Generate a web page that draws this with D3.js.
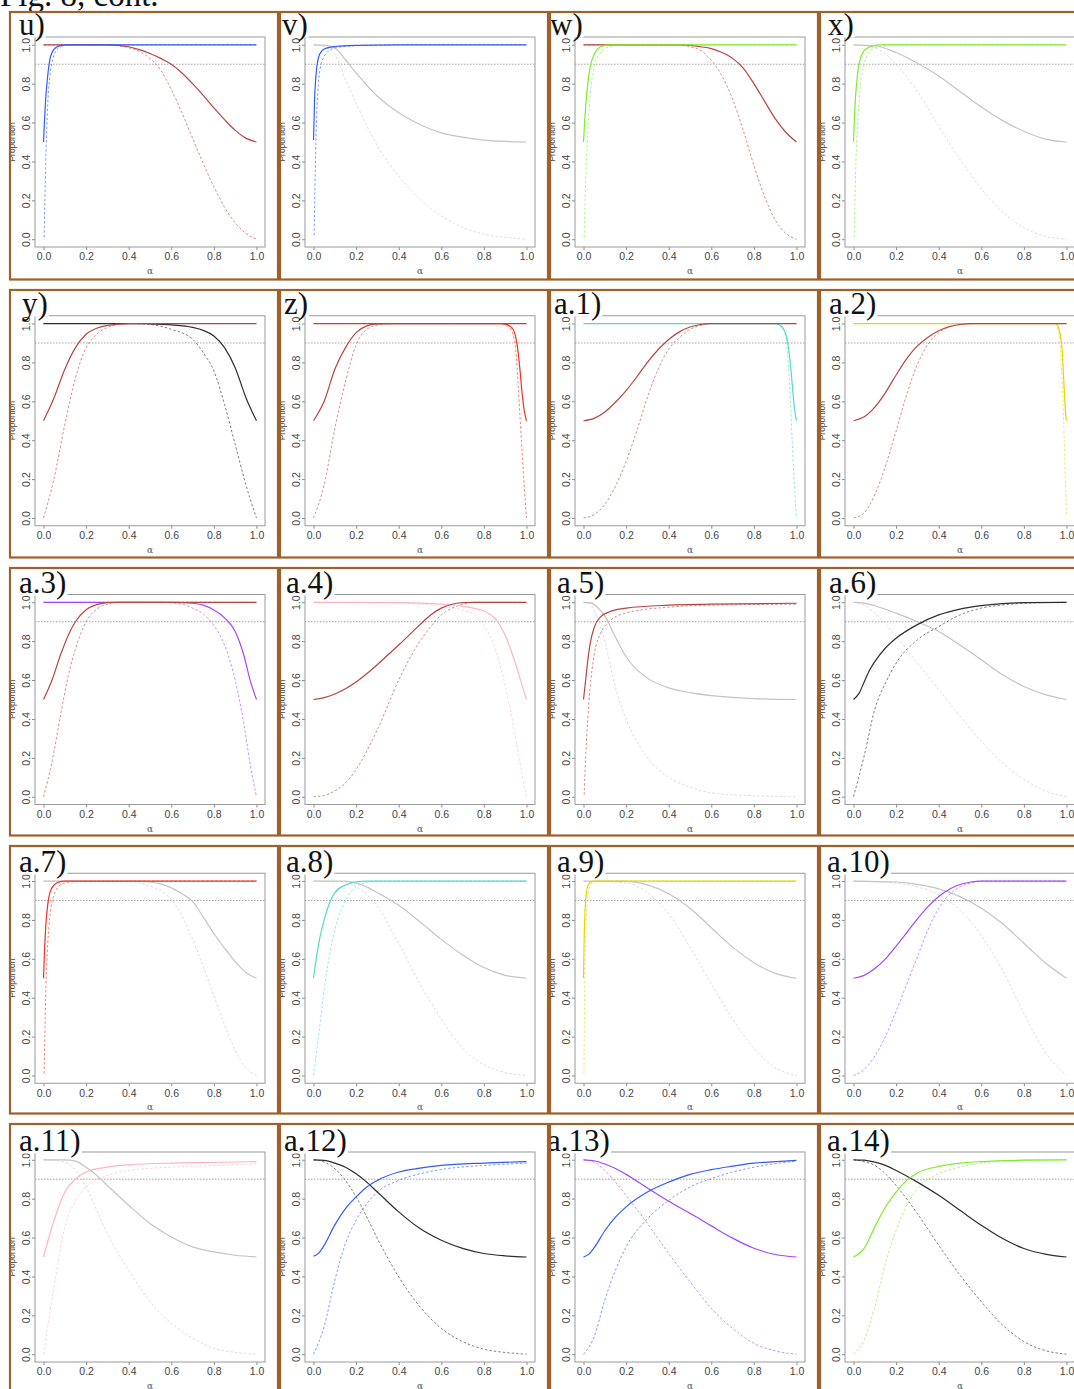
<!DOCTYPE html>
<html>
<head>
<meta charset="utf-8">
<script src="https://cdn.jsdelivr.net/npm/d3@7"></script>
<style>
body { margin: 0; background: #fff; }
</style>
</head>
<body>
<script>
// panel labels and colours (rising group, falling group)
var panelLabels = ["u)", "v)", "w)", "x)", "y)", "z)", "a.1)", "a.2)", "a.3)", "a.4)",
  "a.5)", "a.6)", "a.7)", "a.8)", "a.9)", "a.10)", "a.11)", "a.12)", "a.13)", "a.14)"];
var tickValues = [0, 0.2, 0.4, 0.6, 0.8, 1.0];
var refLevel = 0.9;

var BROWN = "#b8443f", RED = "#f2301f", BLUE = "#3359ff", LIME = "#7ced2a", CYAN = "#55d8ce",
    YELLOW = "#e3d600", PURPLE = "#a347ff", PINK = "#ffb3c2", GRAY = "#c4c4c4", BLACK = "#2e2e2e";
var riseColors = [BLUE, BLUE, LIME, LIME, BROWN, BROWN, BROWN, BROWN, BROWN, BROWN,
  BROWN, BLACK, RED, CYAN, YELLOW, PURPLE, PINK, BLUE, BLUE, LIME];
var fallColors = [BROWN, GRAY, BROWN, GRAY, BLACK, RED, CYAN, YELLOW, PURPLE, PINK,
  GRAY, GRAY, GRAY, GRAY, GRAY, GRAY, GRAY, BLACK, PURPLE, BLACK];

// curves: [alpha, proportion]
var u_riseSolid = [[0,0.5],[0.005,0.62],[0.01,0.72],[0.016,0.8],[0.025,0.89],[0.031,0.93],[0.04,0.96],[0.05,0.978],[0.065,0.99],[0.08,0.996],[0.1,1],[1,1]];
var u_riseDot = [[0.003,0.01],[0.01,0.38],[0.02,0.7],[0.03,0.84],[0.04,0.91],[0.05,0.95],[0.065,0.98],[0.08,0.99],[0.1,0.998],[0.15,1],[1,1]];
var u_fallSolid = [[0,1],[0.3,1],[0.35,0.997],[0.4,0.99],[0.45,0.975],[0.5,0.955],[0.55,0.93],[0.6,0.9],[0.65,0.855],[0.7,0.8],[0.75,0.74],[0.8,0.675],[0.85,0.615],[0.9,0.56],[0.95,0.52],[1,0.5]];
var u_fallDot = [[0,1],[0.3,1],[0.35,0.995],[0.4,0.985],[0.45,0.965],[0.5,0.93],[0.55,0.87],[0.6,0.77],[0.65,0.65],[0.7,0.52],[0.75,0.39],[0.8,0.27],[0.85,0.165],[0.9,0.085],[0.95,0.03],[1,0]];

var v_riseSolid = [[0,0.51],[0.005,0.72],[0.01,0.82],[0.016,0.89],[0.025,0.94],[0.035,0.962],[0.05,0.978],[0.08,0.988],[0.1,0.991],[0.2,0.997],[0.4,1],[1,1]];
var v_riseDot = [[0.003,0.02],[0.01,0.45],[0.02,0.75],[0.03,0.87],[0.05,0.94],[0.08,0.975],[0.1,0.985],[0.2,0.995],[0.4,1],[1,1]];
var v_fallSolid = [[0,1],[0.05,0.998],[0.1,0.983],[0.15,0.923],[0.2,0.855],[0.3,0.735],[0.4,0.65],[0.5,0.59],[0.6,0.547],[0.7,0.525],[0.8,0.51],[0.9,0.503],[1,0.5]];
var v_fallDot = [[0,1],[0.05,0.99],[0.1,0.95],[0.15,0.82],[0.2,0.7],[0.3,0.48],[0.4,0.325],[0.5,0.205],[0.6,0.12],[0.7,0.06],[0.8,0.026],[0.9,0.01],[1,0]];

var w_riseSolid = [[0,0.5],[0.005,0.6],[0.01,0.68],[0.02,0.8],[0.03,0.88],[0.05,0.95],[0.08,0.99],[0.12,1],[1,1]];
var w_riseDot = [[0.003,0.01],[0.01,0.3],[0.02,0.55],[0.03,0.72],[0.05,0.88],[0.08,0.96],[0.12,0.99],[0.2,1],[1,1]];
var w_fallSolid = [[0,1],[0.45,1],[0.5,0.997],[0.55,0.99],[0.6,0.98],[0.65,0.96],[0.7,0.93],[0.75,0.88],[0.8,0.8],[0.85,0.71],[0.9,0.62],[0.95,0.55],[1,0.5]];
var w_fallDot = [[0,1],[0.45,1],[0.5,0.99],[0.55,0.97],[0.6,0.92],[0.65,0.84],[0.7,0.72],[0.75,0.56],[0.8,0.38],[0.85,0.22],[0.9,0.1],[0.95,0.03],[1,0]];

var x_riseSolid = [[0,0.5],[0.005,0.64],[0.01,0.74],[0.02,0.86],[0.03,0.92],[0.05,0.97],[0.08,0.99],[0.12,1],[1,1]];
var x_riseDot = [[0.003,0.01],[0.01,0.35],[0.02,0.6],[0.03,0.76],[0.05,0.9],[0.08,0.97],[0.12,0.99],[0.2,1],[1,1]];
var x_fallSolid = [[0,1],[0.1,0.995],[0.2,0.96],[0.3,0.905],[0.4,0.84],[0.5,0.76],[0.6,0.68],[0.7,0.61],[0.8,0.555],[0.9,0.515],[1,0.5]];
var x_fallDot = [[0,1],[0.1,0.985],[0.2,0.9],[0.3,0.76],[0.4,0.58],[0.5,0.41],[0.6,0.26],[0.7,0.14],[0.8,0.06],[0.9,0.015],[1,0]];

var y_riseSolid = [[0,0.5],[0.05,0.62],[0.1,0.765],[0.15,0.876],[0.2,0.945],[0.25,0.976],[0.3,0.99],[0.35,0.997],[0.4,1],[1,1]];
var y_riseDot = [[0,0],[0.05,0.206],[0.1,0.48],[0.15,0.72],[0.2,0.876],[0.25,0.945],[0.3,0.98],[0.35,0.995],[0.4,1],[1,1]];
var y_fallSolid = [[0,1],[0.45,1],[0.5,0.998],[0.6,0.993],[0.7,0.98],[0.75,0.965],[0.8,0.936],[0.85,0.876],[0.9,0.773],[0.95,0.62],[1,0.5]];
var y_fallDot = [[0,1],[0.4,1],[0.5,0.995],[0.6,0.97],[0.7,0.92],[0.75,0.85],[0.8,0.756],[0.85,0.584],[0.9,0.378],[0.95,0.172],[1,0]];

var z_riseSolid = [[0,0.5],[0.05,0.6],[0.1,0.765],[0.15,0.876],[0.2,0.953],[0.25,0.988],[0.3,0.998],[0.4,1],[1,1]];
var z_riseDot = [[0,0],[0.05,0.17],[0.1,0.46],[0.15,0.7],[0.2,0.89],[0.25,0.97],[0.3,0.993],[0.35,1],[1,1]];
var z_fallSolid = [[0,1],[0.88,1],[0.9,0.997],[0.93,0.98],[0.95,0.928],[0.96,0.86],[0.97,0.756],[0.98,0.636],[0.99,0.55],[1,0.5]];
var z_fallDot = [[0,1],[0.88,1],[0.92,0.98],[0.94,0.93],[0.95,0.86],[0.96,0.7],[0.97,0.515],[0.98,0.33],[0.99,0.155],[1,0]];

var a1_riseSolid = [[0,0.5],[0.05,0.512],[0.1,0.545],[0.15,0.595],[0.2,0.655],[0.25,0.725],[0.3,0.8],[0.35,0.865],[0.4,0.918],[0.45,0.957],[0.5,0.982],[0.55,0.995],[0.6,1],[1,1]];
var a1_riseDot = [[0,0],[0.05,0.017],[0.1,0.07],[0.15,0.163],[0.2,0.29],[0.25,0.447],[0.3,0.62],[0.35,0.765],[0.4,0.868],[0.45,0.928],[0.5,0.97],[0.55,0.99],[0.6,1],[1,1]];
var a1_fallSolid = [[0,1],[0.9,1],[0.92,0.993],[0.94,0.97],[0.95,0.945],[0.96,0.893],[0.97,0.807],[0.98,0.687],[0.99,0.567],[1,0.5]];
var a1_fallDot = [[0,1],[0.9,1],[0.93,0.988],[0.95,0.928],[0.96,0.825],[0.97,0.636],[0.98,0.395],[0.99,0.172],[1,0]];

var a2_riseSolid = [[0,0.5],[0.05,0.52],[0.1,0.57],[0.15,0.645],[0.2,0.735],[0.25,0.82],[0.3,0.885],[0.35,0.93],[0.4,0.963],[0.45,0.984],[0.5,0.995],[0.55,1],[1,1]];
var a2_riseDot = [[0,0],[0.05,0.026],[0.1,0.12],[0.15,0.266],[0.2,0.447],[0.25,0.636],[0.3,0.79],[0.35,0.893],[0.4,0.953],[0.45,0.983],[0.5,0.995],[0.55,1],[1,1]];
var a2_fallSolid = [[0,1],[0.95,1],[0.96,0.988],[0.97,0.945],[0.98,0.86],[0.985,0.756],[0.99,0.653],[0.995,0.55],[1,0.5]];
var a2_fallDot = [[0,1],[0.95,1],[0.96,0.97],[0.97,0.893],[0.98,0.687],[0.985,0.55],[0.99,0.378],[0.995,0.18],[1,0.02]];

var a3_riseSolid = [[0,0.5],[0.04,0.6],[0.08,0.73],[0.12,0.84],[0.15,0.9],[0.2,0.962],[0.25,0.988],[0.3,0.998],[0.35,1],[1,1]];
var a3_riseDot = [[0,0],[0.04,0.18],[0.08,0.42],[0.12,0.64],[0.15,0.76],[0.2,0.9],[0.25,0.965],[0.3,0.99],[0.35,1],[1,1]];
var a3_fallSolid = [[0,1],[0.6,1],[0.7,0.995],[0.75,0.985],[0.8,0.96],[0.85,0.92],[0.9,0.85],[0.94,0.73],[0.97,0.6],[1,0.5]];
var a3_fallDot = [[0,1],[0.55,1],[0.65,0.99],[0.7,0.97],[0.75,0.94],[0.8,0.88],[0.85,0.78],[0.9,0.6],[0.94,0.38],[0.97,0.17],[1,0]];

var a4_riseSolid = [[0,0.5],[0.05,0.51],[0.1,0.528],[0.15,0.555],[0.2,0.59],[0.25,0.632],[0.3,0.68],[0.4,0.78],[0.5,0.885],[0.55,0.935],[0.6,0.97],[0.65,0.99],[0.7,0.998],[0.75,1],[1,1]];
var a4_riseDot = [[0,0],[0.05,0.006],[0.1,0.03],[0.15,0.07],[0.2,0.14],[0.3,0.345],[0.4,0.6],[0.5,0.8],[0.55,0.875],[0.6,0.935],[0.65,0.97],[0.7,0.99],[0.75,1],[1,1]];
var a4_fallSolid = [[0,1],[0.4,0.998],[0.6,0.99],[0.7,0.98],[0.75,0.97],[0.8,0.955],[0.85,0.92],[0.9,0.83],[0.95,0.68],[0.98,0.57],[1,0.5]];
var a4_fallDot = [[0,1],[0.4,0.995],[0.6,0.98],[0.7,0.96],[0.75,0.94],[0.8,0.88],[0.85,0.77],[0.9,0.57],[0.95,0.3],[0.98,0.11],[1,0]];

var a5_riseSolid = [[0,0.5],[0.01,0.6],[0.02,0.7],[0.03,0.78],[0.05,0.87],[0.08,0.925],[0.12,0.95],[0.2,0.97],[0.4,0.985],[0.6,0.99],[1,0.995]];
var a5_riseDot = [[0.003,0.01],[0.01,0.2],[0.02,0.4],[0.03,0.55],[0.05,0.73],[0.08,0.84],[0.12,0.9],[0.2,0.945],[0.4,0.975],[0.6,0.985],[1,0.99]];
var a5_fallSolid = [[0,1],[0.03,0.998],[0.06,0.98],[0.1,0.93],[0.15,0.82],[0.2,0.72],[0.3,0.61],[0.4,0.56],[0.5,0.535],[0.6,0.52],[0.8,0.505],[1,0.5]];
var a5_fallDot = [[0,1],[0.03,0.99],[0.06,0.93],[0.1,0.8],[0.15,0.56],[0.2,0.4],[0.3,0.2],[0.4,0.1],[0.5,0.05],[0.6,0.02],[0.8,0.005],[1,0]];

var a6_riseSolid = [[0,0.5],[0.025,0.53],[0.05,0.59],[0.075,0.65],[0.1,0.695],[0.15,0.765],[0.2,0.815],[0.3,0.885],[0.4,0.935],[0.5,0.965],[0.6,0.983],[0.7,0.993],[0.8,0.998],[1,1]];
var a6_riseDot = [[0,0],[0.05,0.21],[0.1,0.45],[0.15,0.585],[0.2,0.687],[0.3,0.807],[0.4,0.875],[0.5,0.935],[0.6,0.97],[0.7,0.986],[0.8,0.995],[1,1]];
var a6_fallSolid = [[0,1],[0.05,0.996],[0.1,0.982],[0.2,0.944],[0.3,0.9],[0.4,0.85],[0.5,0.78],[0.6,0.704],[0.7,0.627],[0.8,0.567],[0.9,0.525],[1,0.5]];
var a6_fallDot = [[0,1],[0.05,0.986],[0.1,0.944],[0.2,0.824],[0.3,0.687],[0.4,0.55],[0.5,0.414],[0.6,0.285],[0.7,0.174],[0.8,0.089],[0.9,0.03],[1,0]];

var a7_riseSolid = [[0,0.5],[0.005,0.65],[0.01,0.76],[0.02,0.88],[0.03,0.94],[0.05,0.98],[0.08,0.997],[0.1,1],[1,1]];
var a7_riseDot = [[0.003,0.01],[0.01,0.4],[0.02,0.68],[0.03,0.82],[0.05,0.93],[0.08,0.98],[0.12,0.995],[0.2,1],[1,1]];
var a7_fallSolid = [[0,1],[0.45,1],[0.5,0.995],[0.55,0.985],[0.6,0.965],[0.65,0.935],[0.7,0.895],[0.75,0.815],[0.8,0.73],[0.85,0.655],[0.9,0.585],[0.95,0.53],[1,0.5]];
var a7_fallDot = [[0,1],[0.4,1],[0.45,0.99],[0.5,0.975],[0.55,0.95],[0.6,0.905],[0.65,0.82],[0.7,0.7],[0.75,0.56],[0.8,0.41],[0.85,0.26],[0.9,0.13],[0.95,0.04],[1,0]];

var a8_riseSolid = [[0,0.5],[0.01,0.58],[0.02,0.65],[0.03,0.71],[0.05,0.8],[0.08,0.9],[0.1,0.94],[0.15,0.98],[0.2,0.996],[0.25,1],[1,1]];
var a8_riseDot = [[0,0],[0.02,0.17],[0.05,0.44],[0.08,0.65],[0.1,0.75],[0.15,0.9],[0.2,0.97],[0.25,0.993],[0.3,1],[1,1]];
var a8_fallSolid = [[0,1],[0.15,1],[0.2,0.99],[0.25,0.97],[0.3,0.94],[0.35,0.91],[0.4,0.875],[0.5,0.79],[0.6,0.7],[0.7,0.62],[0.8,0.555],[0.9,0.515],[1,0.5]];
var a8_fallDot = [[0,1],[0.15,0.995],[0.2,0.97],[0.25,0.93],[0.3,0.87],[0.35,0.78],[0.4,0.68],[0.5,0.47],[0.6,0.29],[0.7,0.14],[0.8,0.055],[0.9,0.015],[1,0]];

var a9_riseSolid = [[0,0.5],[0.003,0.7],[0.006,0.82],[0.01,0.9],[0.015,0.95],[0.02,0.975],[0.03,0.99],[0.05,1],[1,1]];
var a9_riseDot = [[0.002,0.01],[0.005,0.4],[0.01,0.7],[0.015,0.85],[0.02,0.92],[0.03,0.97],[0.05,0.995],[0.08,1],[1,1]];
var a9_fallSolid = [[0,1],[0.2,0.998],[0.3,0.98],[0.4,0.935],[0.5,0.86],[0.6,0.76],[0.7,0.66],[0.8,0.58],[0.9,0.525],[1,0.5]];
var a9_fallDot = [[0,1],[0.2,0.99],[0.3,0.94],[0.4,0.83],[0.5,0.66],[0.6,0.47],[0.7,0.29],[0.8,0.14],[0.9,0.04],[1,0]];

var a10_riseSolid = [[0,0.5],[0.05,0.515],[0.1,0.55],[0.15,0.6],[0.2,0.665],[0.25,0.735],[0.3,0.805],[0.35,0.868],[0.4,0.92],[0.45,0.958],[0.5,0.982],[0.55,0.995],[0.6,1],[1,1]];
var a10_riseDot = [[0,0],[0.05,0.03],[0.1,0.1],[0.15,0.2],[0.2,0.33],[0.25,0.47],[0.3,0.61],[0.35,0.75],[0.4,0.86],[0.45,0.93],[0.5,0.97],[0.55,0.99],[0.6,1],[1,1]];
var a10_fallSolid = [[0,1],[0.2,0.995],[0.3,0.983],[0.4,0.96],[0.5,0.92],[0.6,0.86],[0.7,0.78],[0.8,0.68],[0.9,0.58],[1,0.5]];
var a10_fallDot = [[0,1],[0.2,0.99],[0.3,0.97],[0.4,0.93],[0.5,0.85],[0.6,0.72],[0.7,0.54],[0.8,0.32],[0.9,0.12],[1,0]];

var a11_riseSolid = [[0,0.5],[0.05,0.69],[0.1,0.834],[0.15,0.9],[0.2,0.937],[0.3,0.962],[0.4,0.974],[0.6,0.983],[0.8,0.986],[1,0.991]];
var a11_riseDot = [[0,0],[0.05,0.35],[0.1,0.655],[0.15,0.79],[0.2,0.86],[0.3,0.92],[0.4,0.945],[0.6,0.962],[0.8,0.97],[1,0.98]];
var a11_fallSolid = [[0,1],[0.1,1],[0.15,0.993],[0.2,0.962],[0.25,0.92],[0.3,0.868],[0.4,0.766],[0.5,0.672],[0.6,0.603],[0.7,0.552],[0.8,0.526],[0.9,0.509],[1,0.5]];
var a11_fallDot = [[0,1],[0.1,0.988],[0.15,0.945],[0.2,0.86],[0.25,0.74],[0.3,0.62],[0.4,0.432],[0.5,0.27],[0.6,0.159],[0.7,0.082],[0.8,0.03],[0.9,0.01],[1,0]];

var a12_riseSolid = [[0,0.504],[0.025,0.52],[0.05,0.56],[0.1,0.665],[0.15,0.749],[0.2,0.809],[0.25,0.86],[0.3,0.894],[0.4,0.937],[0.5,0.957],[0.6,0.971],[0.8,0.983],[1,0.99]];
var a12_riseDot = [[0,0],[0.05,0.142],[0.1,0.38],[0.15,0.57],[0.2,0.69],[0.25,0.774],[0.3,0.834],[0.4,0.894],[0.5,0.928],[0.6,0.95],[0.8,0.971],[1,0.983]];
var a12_fallSolid = [[0,1],[0.05,0.997],[0.1,0.983],[0.15,0.962],[0.2,0.928],[0.25,0.885],[0.3,0.834],[0.4,0.732],[0.5,0.646],[0.6,0.586],[0.7,0.544],[0.8,0.518],[0.9,0.506],[1,0.5]];
var a12_fallDot = [[0,1],[0.05,0.988],[0.1,0.954],[0.15,0.894],[0.2,0.809],[0.25,0.706],[0.3,0.595],[0.4,0.398],[0.5,0.244],[0.6,0.133],[0.7,0.065],[0.8,0.026],[0.9,0.009],[1,0]];

var a13_riseSolid = [[0,0.5],[0.025,0.515],[0.05,0.548],[0.1,0.635],[0.15,0.705],[0.2,0.758],[0.3,0.834],[0.4,0.885],[0.5,0.925],[0.6,0.949],[0.7,0.967],[0.8,0.983],[0.9,0.99],[1,0.997]];
var a13_riseDot = [[0,0],[0.05,0.09],[0.1,0.279],[0.15,0.432],[0.2,0.552],[0.3,0.697],[0.4,0.791],[0.5,0.86],[0.6,0.903],[0.7,0.937],[0.8,0.962],[0.9,0.98],[1,0.993]];
var a13_fallSolid = [[0,1],[0.05,0.995],[0.1,0.978],[0.15,0.955],[0.2,0.925],[0.3,0.855],[0.4,0.787],[0.5,0.725],[0.6,0.66],[0.7,0.597],[0.8,0.545],[0.9,0.513],[1,0.5]];
var a13_fallDot = [[0,1],[0.05,0.988],[0.1,0.945],[0.15,0.885],[0.2,0.817],[0.3,0.672],[0.4,0.518],[0.5,0.373],[0.6,0.236],[0.7,0.133],[0.8,0.056],[0.9,0.017],[1,0]];

var a14_riseSolid = [[0,0.5],[0.05,0.544],[0.1,0.655],[0.15,0.757],[0.2,0.834],[0.25,0.894],[0.3,0.932],[0.4,0.966],[0.5,0.983],[0.6,0.991],[0.8,0.998],[1,1]];
var a14_riseDot = [[0,0],[0.05,0.073],[0.1,0.244],[0.15,0.467],[0.2,0.638],[0.25,0.766],[0.3,0.851],[0.4,0.928],[0.5,0.962],[0.6,0.983],[0.8,0.997],[1,1]];
var a14_fallSolid = [[0,1],[0.05,0.998],[0.1,0.988],[0.15,0.971],[0.2,0.945],[0.3,0.885],[0.4,0.817],[0.5,0.74],[0.6,0.663],[0.7,0.595],[0.8,0.544],[0.9,0.515],[1,0.5]];
var a14_fallDot = [[0,1],[0.05,0.99],[0.1,0.971],[0.15,0.928],[0.2,0.868],[0.3,0.723],[0.4,0.56],[0.5,0.407],[0.6,0.27],[0.7,0.15],[0.8,0.065],[0.9,0.019],[1,0]];

var riseSolid = [u_riseSolid, v_riseSolid, w_riseSolid, x_riseSolid, y_riseSolid, z_riseSolid, a1_riseSolid, a2_riseSolid, a3_riseSolid, a4_riseSolid,
  a5_riseSolid, a6_riseSolid, a7_riseSolid, a8_riseSolid, a9_riseSolid, a10_riseSolid, a11_riseSolid, a12_riseSolid, a13_riseSolid, a14_riseSolid];
var riseDot = [u_riseDot, v_riseDot, w_riseDot, x_riseDot, y_riseDot, z_riseDot, a1_riseDot, a2_riseDot, a3_riseDot, a4_riseDot,
  a5_riseDot, a6_riseDot, a7_riseDot, a8_riseDot, a9_riseDot, a10_riseDot, a11_riseDot, a12_riseDot, a13_riseDot, a14_riseDot];
var fallSolid = [u_fallSolid, v_fallSolid, w_fallSolid, x_fallSolid, y_fallSolid, z_fallSolid, a1_fallSolid, a2_fallSolid, a3_fallSolid, a4_fallSolid,
  a5_fallSolid, a6_fallSolid, a7_fallSolid, a8_fallSolid, a9_fallSolid, a10_fallSolid, a11_fallSolid, a12_fallSolid, a13_fallSolid, a14_fallSolid];
var fallDot = [u_fallDot, v_fallDot, w_fallDot, x_fallDot, y_fallDot, z_fallDot, a1_fallDot, a2_fallDot, a3_fallDot, a4_fallDot,
  a5_fallDot, a6_fallDot, a7_fallDot, a8_fallDot, a9_fallDot, a10_fallDot, a11_fallDot, a12_fallDot, a13_fallDot, a14_fallDot];

// layout
var W = 1074, H = 1389;
var colStep = 270, rowStep = 278;
var boxW = 230, boxH = 210;
// where each panel letter starts, relative to its frame
var labelDx = [10, 3, 1, 9, 13, 5, 5, 10, 10, 7, 8, 10, 10, 7, 8, 8, 10, 5, -2, 8];

var svg = d3.select("body").append("svg")
  .attr("width", W)
  .attr("height", H);

svg.append("text")
  .attr("x", 0)
  .attr("y", 6)
  .style("font-family", "'Liberation Serif', 'Times New Roman', serif")
  .style("font-size", "33px")
  .attr("fill", "#111")
  .text("Fig. 8, cont.");

var x = d3.scaleLinear().domain([-0.04, 1.04]).range([0, boxW]);
var y = d3.scaleLinear().domain([-0.04, 1.04]).range([boxH, 0]);
var line = d3.line()
  .x(function(d){ return x(d[0]); })
  .y(function(d){ return y(d[1]); })
  .curve(d3.curveMonotoneX);

var frames = [];

panelLabels.forEach(function(lab, i){
  var r = Math.floor(i / 4), c = i % 4;
  var fx = 9 + c * colStep, fy = 12 + r * rowStep;
  frames.push([fx, fy]);

  svg.append("clipPath").attr("id", "clip" + i)
    .append("rect")
    .attr("x", fx + 1).attr("y", fy + 1)
    .attr("width", 268).attr("height", 266.5);

  var inner = svg.append("g").attr("clip-path", "url(#clip" + i + ")");
  var plot = inner.append("g")
    .attr("transform", "translate(" + (fx + 26) + "," + (fy + 25 + 0.75 * r) + ")");

  // axes
  var xa = plot.append("g")
    .attr("transform", "translate(0," + boxH + ")")
    .call(d3.axisBottom(x).tickValues(tickValues).tickFormat(d3.format(".1f")).tickSize(3).tickPadding(3));
  var ya = plot.append("g")
    .call(d3.axisLeft(y).tickValues(tickValues).tickFormat(d3.format(".1f")).tickSize(3));
  [xa, ya].forEach(function(a){
    a.select(".domain").remove();
    a.selectAll("line").attr("stroke", "#8a8a8a");
    a.selectAll("text")
      .attr("fill", "#444")
      .style("font-family", "'Liberation Sans', Arial, sans-serif")
      .style("font-size", "10.5px");
  });
  ya.selectAll("text")
    .attr("x", 0)
    .attr("y", -5)
    .attr("dy", null)
    .attr("text-anchor", "middle")
    .attr("transform", "rotate(-90)");

  plot.append("rect")
    .attr("width", boxW).attr("height", boxH)
    .attr("fill", "none")
    .attr("stroke", "#9a9a9a")
    .attr("stroke-width", 1);

  plot.append("text")
    .attr("transform", "translate(-20," + (boxH / 2) + ") rotate(-90)")
    .attr("text-anchor", "middle")
    .attr("fill", "#444")
    .style("font-family", "'Liberation Sans', Arial, sans-serif")
    .style("font-size", "8.5px")
    .text("Proportion");

  plot.append("text")
    .attr("x", boxW / 2)
    .attr("y", boxH + 27)
    .attr("text-anchor", "middle")
    .attr("fill", "#555")
    .style("font-family", "'DejaVu Serif', serif")
    .style("font-size", "9px")
    .text("\u03b1");

  // reference line
  plot.append("line")
    .attr("x1", 0).attr("x2", boxW)
    .attr("y1", y(refLevel)).attr("y2", y(refLevel))
    .attr("stroke", "#8c8c8c")
    .attr("stroke-width", 0.8)
    .attr("stroke-dasharray", "1.5,1.5");

  // curves
  var curves = [
    [fallDot[i], fallColors[i], true],
    [riseDot[i], riseColors[i], true],
    [fallSolid[i], fallColors[i], false],
    [riseSolid[i], riseColors[i], false]
  ];
  plot.selectAll("path.curve")
    .data(curves)
    .enter()
    .append("path")
    .attr("class", "curve")
    .attr("d", function(d){ return line(d[0]); })
    .attr("fill", "none")
    .attr("stroke", function(d){ return d[1]; })
    .attr("stroke-width", function(d){ return d[2] ? 1 : 1.2; })
    .attr("stroke-opacity", function(d){ return d[2] ? 0.6 : 1; })
    .attr("stroke-dasharray", function(d){ return d[2] ? "2.5,2" : null; });

  // panel letter on a white patch
  var lg = svg.append("g");
  var bg = lg.append("rect").attr("fill", "#fff");
  var baseY = 35 + r * 279;
  var t = lg.append("text")
    .attr("x", fx + labelDx[i])
    .attr("y", baseY)
    .attr("fill", "#111")
    .style("font-family", "'Liberation Serif', 'Times New Roman', serif")
    .style("font-size", "31px")
    .text(lab);
  var tw = t.node().getComputedTextLength();
  bg.attr("x", fx + labelDx[i] - 1)
    .attr("y", baseY - 22)
    .attr("width", tw + 2)
    .attr("height", 24.5);
});

// brown frames on top
svg.selectAll("rect.frame")
  .data(frames)
  .enter()
  .append("rect")
  .attr("class", "frame")
  .attr("x", function(d){ return d[0] + 1; })
  .attr("y", function(d){ return d[1]; })
  .attr("width", 268)
  .attr("height", 267.5)
  .attr("fill", "none")
  .attr("stroke", "#a0602a")
  .attr("stroke-width", 2.2);
</script>
</body>
</html>
